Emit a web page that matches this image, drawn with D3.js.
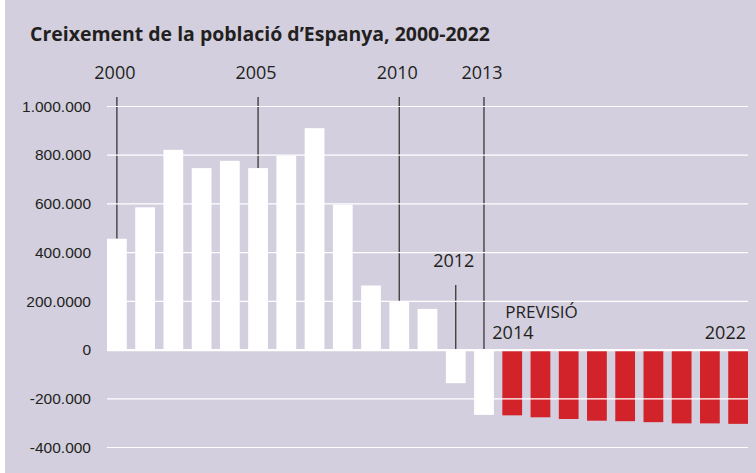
<!DOCTYPE html>
<html lang="ca">
<head>
  <meta charset="UTF-8" />
  <title>Creixement de la població d'Espanya, 2000-2022</title>
  <script src="https://cdn.jsdelivr.net/npm/d3@7"></script>
  <style>
    body {
      margin: 0;
      background-color: #ffffff;
    }

    svg {
      display: block;
      font-family: "Open Sans", "Noto Sans", sans-serif;
    }

    .title {
      font-weight: bold;
      font-size: 20px;
      fill: #231f20;
    }

    .y-axis text {
      font-size: 15.5px;
      fill: #231f20;
    }

    .y-axis line {
      stroke: #ffffff;
      stroke-width: 1.2px;
    }

    .year-label {
      font-size: 18px;
      fill: #231f20;
    }

    .leader {
      stroke: #3a3638;
      stroke-width: 1.3px;
    }
  </style>
</head>
<body>
  <div id="chart"></div>

  <script>
    const years = d3.range(2000, 2023);
    const growth = [
      455000, 584000, 820000, 745000, 775000, 745000, 795000, 909000,
      595000, 263000, 198000, 167000, -138000, -268000,
      -270000, -278000, -285000, -292000, -294000, -298000, -303000, -303000, -305000
    ];
    const forecastFrom = 2014;

    const yTicks = [-400000, -200000, 0, 200000, 400000, 600000, 800000, 1000000];
    const yTickLabels = ["-400.000", "-200.000", "0", "200.0000", "400.000", "600.000", "800.000", "1.000.000"];

    // years with a label and a leader line above the bars
    const calloutYears = [2000, 2005, 2010, 2012, 2013];
    const calloutTops = [97, 97, 97, 285, 97];

    const width = 756;
    const height = 473;
    const left = 107;
    const right = 748;

    const data = years.map((y, i) => ({ year: y, value: growth[i] }));

    const svg = d3.select("#chart")
      .append("svg")
      .attr("width", width)
      .attr("height", height);

    svg.append("rect")
      .attr("x", 5)
      .attr("y", 0)
      .attr("width", width - 5)
      .attr("height", height)
      .attr("fill", "#d3cfdf");

    svg.append("text")
      .attr("class", "title")
      .attr("x", 30)
      .attr("y", 41)
      .attr("textLength", 460)
      .attr("lengthAdjust", "spacingAndGlyphs")
      .text("Creixement de la població d\u2019Espanya, 2000-2022");

    const x = d3.scaleBand()
      .domain(years)
      .range([left, right])
      .paddingInner(0.3)
      .paddingOuter(0);

    const y = d3.scaleLinear()
      .domain([-400000, 1000000])
      .range([447, 106]);

    // leader lines (behind bars)
    const callouts = calloutYears.map((yr, i) => ({
      year: yr,
      top: calloutTops[i],
      value: growth[years.indexOf(yr)]
    }));

    svg.selectAll(".leader")
      .data(callouts)
      .enter()
      .append("line")
      .attr("class", "leader")
      .attr("x1", d => x(d.year) + x.bandwidth() / 2)
      .attr("x2", d => x(d.year) + x.bandwidth() / 2)
      .attr("y1", d => d.top)
      .attr("y2", d => y(Math.max(0, d.value)));

    svg.selectAll(".bar")
      .data(data)
      .enter()
      .append("rect")
      .attr("class", "bar")
      .attr("x", d => x(d.year))
      .attr("y", d => y(Math.max(0, d.value)))
      .attr("width", x.bandwidth())
      .attr("height", d => Math.abs(y(d.value) - y(0)))
      .attr("fill", d => d.year >= forecastFrom ? "#d2232a" : "#ffffff");

    // grid + labels drawn over the bars
    const yAxis = d3.axisLeft(y)
      .tickValues(yTicks)
      .tickSize(-(right - left))
      .tickPadding(16)
      .tickFormat((d, i) => yTickLabels[i]);

    const gy = svg.append("g")
      .attr("class", "y-axis")
      .attr("transform", `translate(${left},0)`)
      .call(yAxis);

    gy.select(".domain").remove();
    gy.selectAll(".tick text").attr("dy", "0.34em");
    gy.selectAll(".tick")
      .filter(d => d === 0)
      .select("line")
      .style("stroke-width", "2.2px");

    svg.selectAll(".callout-label")
      .data(callouts)
      .enter()
      .append("text")
      .attr("class", "year-label")
      .attr("text-anchor", "middle")
      .attr("x", d => x(d.year) + x.bandwidth() / 2 - 2)
      .attr("y", d => d.top - 18)
      .text(d => d.year);

    svg.append("text")
      .attr("class", "year-label")
      .attr("x", x(forecastFrom) + 3)
      .attr("y", 318)
      .style("font-size", "17px")
      .text("PREVISIÓ");

    svg.append("text")
      .attr("class", "year-label")
      .attr("x", x(forecastFrom) - 10)
      .attr("y", 339)
      .text(forecastFrom);

    svg.append("text")
      .attr("class", "year-label")
      .attr("text-anchor", "end")
      .attr("x", x(years[years.length - 1]) + x.bandwidth() - 2)
      .attr("y", 339)
      .text(years[years.length - 1]);
  </script>
</body>
</html>
